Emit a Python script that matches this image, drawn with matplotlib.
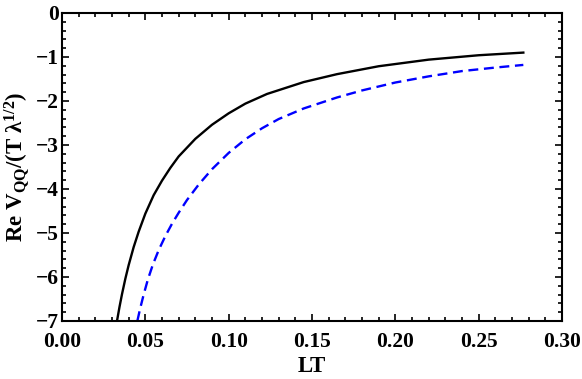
import matplotlib
matplotlib.use("Agg")
import matplotlib.pyplot as plt
from matplotlib.ticker import MultipleLocator, FormatStrFormatter

plt.rcParams["font.family"] = ["Liberation Serif", "DejaVu Serif"]
plt.rcParams["font.weight"] = "bold"
plt.rcParams["mathtext.fontset"] = "custom"
plt.rcParams["mathtext.rm"] = "Liberation Serif:bold"
plt.rcParams["mathtext.it"] = "Liberation Serif:bold"
plt.rcParams["mathtext.bf"] = "Liberation Serif:bold"

# curves
lt_solid = [0.0330, 0.0345, 0.0360, 0.0380, 0.0400, 0.0430, 0.0460, 0.0500,
            0.0550, 0.0600, 0.0650, 0.0700, 0.0800, 0.0900, 0.1000, 0.1100,
            0.1230, 0.1450, 0.1650, 0.1900, 0.2200, 0.2500, 0.2768]
v_solid = [-7.00, -6.68, -6.39, -6.04, -5.73, -5.32, -4.97, -4.56,
           -4.14, -3.81, -3.52, -3.26, -2.86, -2.54, -2.28, -2.06,
           -1.84, -1.57, -1.39, -1.21, -1.06, -0.96, -0.90]

lt_dashed = [0.0452, 0.0470, 0.0490, 0.0515, 0.0545, 0.0580, 0.0620, 0.0660,
             0.0700, 0.0750, 0.0820, 0.0900, 0.1000, 0.1100, 0.1200, 0.1300,
             0.1450, 0.1650, 0.1800, 0.2000, 0.2200, 0.2400, 0.2600, 0.2768]
v_dashed = [-7.00, -6.70, -6.40, -6.06, -5.72, -5.39, -5.07, -4.79,
            -4.54, -4.25, -3.90, -3.55, -3.18, -2.87, -2.62, -2.41,
            -2.17, -1.92, -1.76, -1.58, -1.44, -1.32, -1.24, -1.18]

fig = plt.figure(figsize=(5.82, 3.79), dpi=100)
ax = fig.add_axes([62 / 582, 1 - 321 / 379, 500 / 582, 308 / 379])

ax.plot(lt_solid, v_solid, color="black", lw=1.7, solid_joinstyle="round")
ax.plot(lt_dashed, v_dashed, color="#0000ff", lw=1.7, dashes=(4.2, 2.4))

ax.set_xlim(0, 0.30)
ax.set_ylim(-7, 0)
ax.xaxis.set_major_locator(MultipleLocator(0.05))
ax.xaxis.set_minor_locator(MultipleLocator(0.01))
ax.yaxis.set_major_locator(MultipleLocator(1))
ax.yaxis.set_minor_locator(MultipleLocator(0.2))
ax.xaxis.set_major_formatter(FormatStrFormatter("%.2f"))
ax.yaxis.set_major_formatter(lambda v, p: f"{int(round(v))}".replace("-", "\u2212"))

ax.tick_params(which="both", direction="in", top=True, right=True,
               labelsize=15.5, width=1.2)
ax.tick_params(axis="x", pad=8)
ax.tick_params(axis="y", pad=2)
ax.tick_params(which="major", length=5)
ax.tick_params(which="minor", length=3)
for s in ax.spines.values():
    s.set_linewidth(1.5)

ax.set_xlabel("LT", fontsize=16.5, fontweight="bold", labelpad=3)
ax.set_ylabel(r"Re V$_{\rm QQ}$/(T λ$^{\rm 1/2}$)", fontsize=16.5,
              fontweight="bold", labelpad=3)

fig.savefig("out.png", dpi=100)
